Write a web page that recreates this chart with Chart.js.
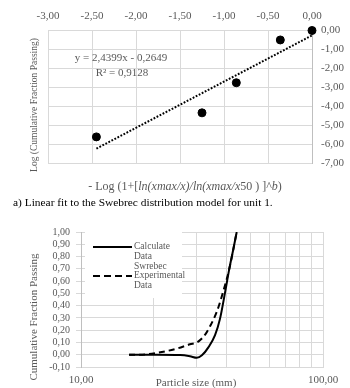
<!DOCTYPE html>
<html>
<head>
<meta charset="utf-8">
<script src="https://cdn.jsdelivr.net/npm/chart.js@4.4.1/dist/chart.umd.min.js"></script>
<style>
html, body { margin:0; padding:0; background:#fff; }
body { width:350px; height:388px; position:relative; overflow:hidden; font-family:"Liberation Serif","Times New Roman",serif; }
canvas { position:absolute; left:0; }
.t { position:absolute; white-space:nowrap; line-height:1; transform:translate(-50%,-50%); color:#595959; }
.rot { transform:translate(-50%,-50%) rotate(-90deg); }
.legend { position:absolute; left:85px; top:228px; width:97px; height:70px; background:#fff; }
.legend .s { position:absolute; left:8px; width:39px; height:2px; }
.legend .lt { position:absolute; left:49px; font-size:9.5px; line-height:9.75px; color:#595959; white-space:nowrap; }
</style>
</head>
<body>

<canvas id="fitChart" width="350" height="195" style="top:0"></canvas>
<canvas id="psdChart" width="350" height="173" style="top:215px"></canvas>

<!-- top chart texts -->
<div class="t rot" style="left:35px; top:105px; font-size:9.5px;">Log (Cumulative Fraction Passing)</div>
<div class="t" style="left:185px; top:186px; font-size:12px;">- Log (1+[<i>ln(xmax/x)/ln(xmax/x</i>50 ) ]^<i>b</i>)</div>
<div class="t" style="left:121px; top:57px; font-size:11px;">y = 2,4399x - 0,2649</div>
<div class="t" style="left:122px; top:72px; font-size:11px;">R² = 0,9128</div>

<div style="position:absolute; left:13px; top:196px; font-size:11.4px; line-height:12px; color:#000; white-space:nowrap;">a) Linear fit to the Swebrec distribution model for unit 1.</div>

<!-- bottom chart texts -->
<div class="t rot" style="left:33px; top:317px; font-size:11px;">Cumulative Fraction Passing</div>
<div class="t" style="left:196px; top:382px; font-size:11px;">Particle size (mm)</div>

<div class="legend">
  <div class="s" style="top:17.7px; background:#000;"></div>
  <div class="lt" style="top:14px;">Calculate<br>Data<br>Swrebec</div>
  <div class="s" style="top:46.7px; background:repeating-linear-gradient(90deg,#000 0 7px,transparent 7px 11px);"></div>
  <div class="lt" style="top:43px;">Experimental<br>Data</div>
</div>

<script>
// ---- top chart: linear fit, unit 1 ----
const fitX = [-2.45, -1.25, -0.86, -0.36, 0.00];
const fitY = [-5.62, -4.35, -2.76, -0.50, 0.00];
const trendX = [-2.45, 0.00];
const trendY = [-6.24, -0.26];

// ---- bottom chart: particle size distribution ----
const calcSize = [15.8, 20.6, 25.7, 28.2, 30.1, 31.6, 33.6, 35.8, 37.5, 39.4, 41.0, 42.6, 44.0];
const calcPass = [0.00, 0.00, -0.002, -0.012, -0.025, -0.005, 0.06, 0.16, 0.29, 0.51, 0.70, 0.86, 1.00];
const expSize = [15.8, 17.5, 20.6, 24.9, 28.2, 30.1, 31.5, 33.0, 34.1, 36.4, 38.5, 41.0, 44.0];
const expPass = [0.00, 0.00, 0.015, 0.05, 0.085, 0.10, 0.13, 0.18, 0.23, 0.35, 0.50, 0.70, 1.00];
const sizeTicks = [10, 20, 30, 40, 50, 60, 70, 80, 90, 100];
const sizeLabels = [10, 100];

const GRID = '#d9d9d9';
const TXT = '#595959';
const FONT = 'Liberation Serif';
const fmt = v => Number(v).toFixed(2).replace('.', ',').replace(/^-0,00$/, '0,00');
const pts = (xs, ys) => xs.map((x, i) => ({x: x, y: ys[i]}));

Chart.defaults.font.family = FONT;
Chart.defaults.color = TXT;

new Chart(document.getElementById('fitChart'), {
    type: 'scatter',
    data: {
        datasets: [
            {data: pts(fitX, fitY), backgroundColor:'#000', borderColor:'#000', pointRadius:4, pointHoverRadius:4, clip:false},
            {data: pts(trendX, trendY), showLine:true, pointRadius:0, borderColor:'#000', borderWidth:2, borderDash:[1.8,1.6], borderCapStyle:'butt'}
        ]
    },
    options: {
        responsive:false, animation:false, devicePixelRatio:1,
        layout:{padding:{left:48, top:0, right:0, bottom:32}},
        plugins:{legend:{display:false}, tooltip:{enabled:false}},
        scales:{
            x:{position:'top', min:-3, max:0,
               ticks:{stepSize:0.5, padding:8, font:{size:11}, color:TXT, callback:v => fmt(v), maxRotation:0, autoSkip:false},
               grid:{color:GRID, drawTicks:false}, border:{color:GRID},
               afterFit(s){ s.height = 30.5; }},
            y:{position:'right', min:-7, max:0,
               ticks:{stepSize:1, padding:9, font:{size:11}, color:TXT, callback:v => fmt(v), autoSkip:false},
               grid:{color:GRID, drawTicks:false}, border:{color:'#bfbfbf'},
               afterFit(s){ s.width = 38; }}
        }
    }
});

new Chart(document.getElementById('psdChart'), {
    type: 'scatter',
    data: {
        datasets: [
            {label:'Calculate Data Swrebec', data: pts(calcSize, calcPass), showLine:true, pointRadius:0, borderColor:'#000', borderWidth:2, cubicInterpolationMode:'monotone'},
            {label:'Experimental Data', data: pts(expSize, expPass), showLine:true, pointRadius:0, borderColor:'#000', borderWidth:2, borderDash:[6,4], cubicInterpolationMode:'monotone'}
        ]
    },
    options: {
        responsive:false, animation:false, devicePixelRatio:1,
        layout:{padding:{left:0, top:17, right:27, bottom:0}},
        plugins:{legend:{display:false}, tooltip:{enabled:false}},
        scales:{
            x:{type:'logarithmic', position:'bottom', min:10, max:100,
               afterBuildTicks(s){ s.ticks = sizeTicks.map(v => ({value:v})); },
               ticks:{padding:7, font:{size:11}, color:TXT, maxRotation:0, autoSkip:false,
                      callback:v => sizeLabels.includes(v) ? fmt(v) : ''},
               grid:{color:GRID, drawTicks:false}, border:{color:GRID},
               afterFit(s){ s.height = 21; }},
            y:{min:-0.1, max:1.0,
               ticks:{stepSize:0.1, padding:6, font:{size:10}, color:TXT, callback:v => fmt(v), autoSkip:false},
               grid:{color:GRID, drawTicks:true, tickLength:5}, border:{color:'#bfbfbf'},
               afterFit(s){ s.width = 81; }}
        }
    }
});
</script>
</body>
</html>
